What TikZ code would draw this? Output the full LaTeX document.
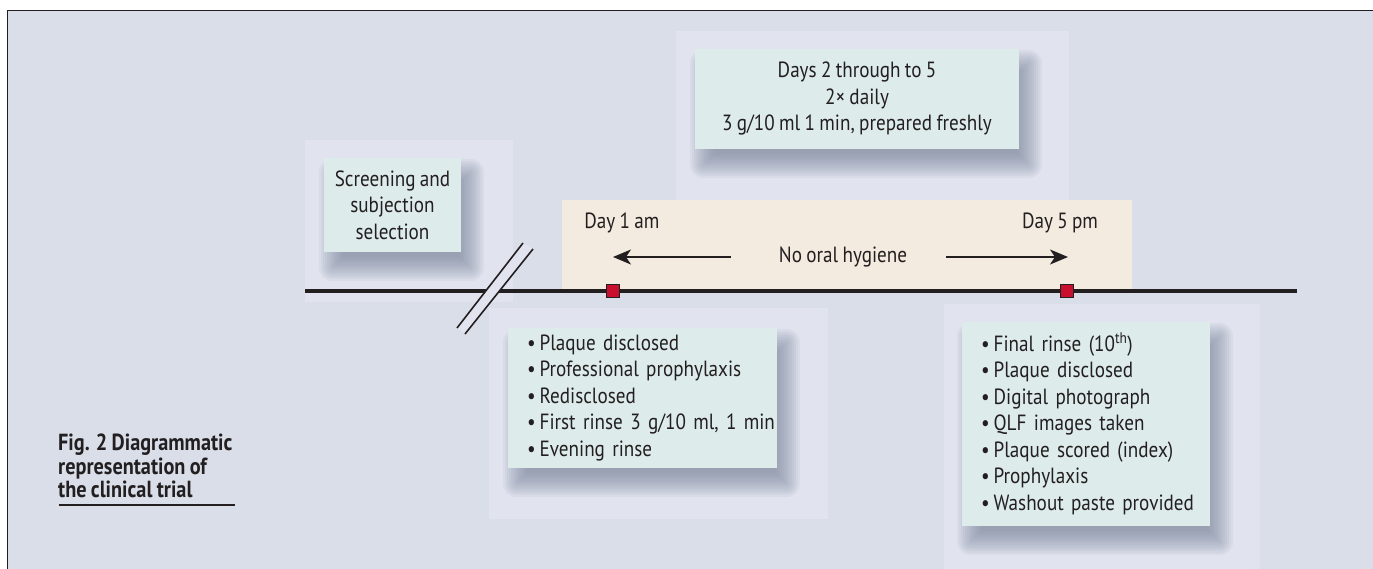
\documentclass[tikz,border=0pt]{standalone}
\usepackage{fontspec}
\setmainfont{PT Sans}[FakeStretch=0.87,WordSpace=0.85]
\usetikzlibrary{arrows.meta}
\definecolor{bgc}{HTML}{D9DEE9}
\definecolor{panec}{HTML}{E1E4EF}
\definecolor{boxc}{HTML}{DDECEA}
\definecolor{beigec}{HTML}{F3EBE0}
\definecolor{mkc}{HTML}{C8102E}
\definecolor{inkc}{HTML}{231F20}
\definecolor{shadec}{HTML}{6F7A90}
\pgfdeclarelayer{back}
\pgfdeclarelayer{shad}
\pgfsetlayers{back,shad,main}
\newcommand\itm[1]{\mbox{\textbullet\hspace{4pt}#1}}
\tikzset{
  txt/.style={font=\fontsize{22}{26.5}\selectfont, text=inkc, inner sep=0pt},
  infobox/.style={txt, fill=boxc, rectangle},
  marker/.style={rectangle, fill=mkc, draw=inkc, line width=1.3pt, minimum width=13pt, minimum height=13pt, inner sep=0pt},
  timeline/.style={draw=inkc, line width=4pt},
  arr/.style={draw=inkc, line width=2pt, -{Stealth[length=18pt,width=15pt,inset=5pt]}},
  brk/.style={draw=inkc, line width=1.6pt},
}
\begin{document}
\begin{tikzpicture}[x=1pt,y=-1pt]
\useasboundingbox (0,0) rectangle (1373,569);
% frame and background
\begin{pgfonlayer}{back}
\fill[white] (0,0) rectangle (1373,569);
\fill[bgc] (7.5,10.5) rectangle (1373,569);
\draw[inkc, line width=1pt] (7.5,569) -- (7.5,10.5) -- (1373,10.5);
% panes
\fill[panec] (305,140) rectangle (513,302);
\fill[panec] (676,31) rectangle (1069,200);
\fill[panec] (489,308) rectangle (828,519);
\fill[panec] (944,304) rectangle (1260,569);
\fill[beigec] (562,200) rectangle (1132,291);
\end{pgfonlayer}

% boxes
\node[infobox, align=center, minimum width=137pt, minimum height=94pt] (scr) at (392.5,205) {Screening and\\subjection\\selection};
\node[infobox, align=center, minimum width=324pt, minimum height=100pt] (days) at (857,99) {Days 2 through to 5\\2× daily\\3 g/10 ml 1 min, prepared freshly};
\node[infobox, align=left, minimum width=269pt, minimum height=140pt, inner xsep=19pt, text width=231pt] (l1) at (642.5,398) {\itm{Plaque disclosed}\\\itm{Professional prophylaxis}\\\itm{Redisclosed}\\\itm{First rinse 3 g/10 ml, 1 min}\\\itm{Evening rinse}};
\node[infobox, align=left, minimum width=248pt, minimum height=204pt, inner xsep=19pt, text width=210pt] (l2) at (1086,424) {\itm{Final rinse (10\textsuperscript{th})}\\\itm{Plaque disclosed}\\\itm{Digital photograph}\\\itm{QLF images taken}\\\itm{Plaque scored (index)}\\\itm{Prophylaxis}\\\itm{Washout paste provided}};

% shadows
\begin{pgfonlayer}{shad}
\foreach \n in {scr,days,l1,l2}{
  \foreach \e in {-10,-8,...,14}{
    \fill[shadec, opacity=0.065, rounded corners={max(\e,1)*1pt}]
      ([xshift={(9-\e)*1pt}, yshift={(-15+\e)*1pt}]\n.north west)
      rectangle ([xshift={(9+\e)*1pt}, yshift={(-15-\e)*1pt}]\n.south east);
  }
}
\end{pgfonlayer}

% timeline
\coordinate (tlL) at (305,291);
\coordinate (tlR) at (1297,291);
\draw[timeline] (tlL) -- (tlR);

% break
\coordinate (b1) at (457,328);
\coordinate (b2) at (523,243);
\coordinate (b3) at (533,249);
\coordinate (b4) at (465,334);
\fill[panec] (b1) -- (b2) -- (b3) -- (b4) -- cycle;
\draw[brk] (b1) -- (b2);
\draw[brk] (b4) -- (b3);

% markers
\node[marker] (m1) at (613,291) {};
\node[marker] (m2) at (1067,291) {};

% labels
\node[txt] (d1) at (622,223) {Day 1 am};
\node[txt] (d5) at (1060,223) {Day 5 pm};
\node[txt] (noh) at (843,257) {No oral hygiene};
\coordinate (a1s) at (731,257);
\coordinate (a1e) at (613,257);
\coordinate (a2s) at (946,257);
\coordinate (a2e) at (1068,257);
\draw[arr] (a1s) -- (a1e);
\draw[arr] (a2s) -- (a2e);

% caption
\node[txt, anchor=west, align=left, font=\fontsize{23.3}{23.5}\selectfont\bfseries] (cap) at (58,466) {Fig. 2 Diagrammatic\\representation of\\the clinical trial};
\coordinate (u1) at (59,505);
\coordinate (u2) at (235,505);
\draw[inkc, line width=1.2pt] (u1) -- (u2);
\end{tikzpicture}
\end{document}
